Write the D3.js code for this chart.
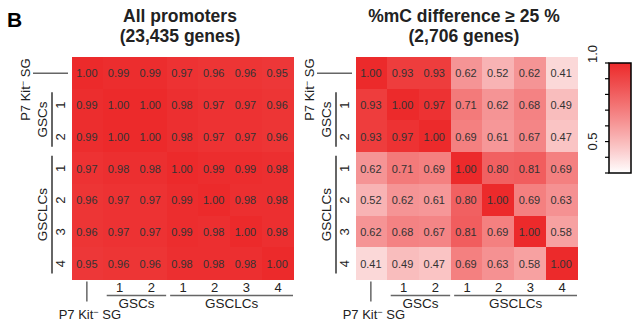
<!DOCTYPE html>
<html>
<head>
<meta charset="utf-8">
<script src="https://cdn.jsdelivr.net/npm/d3@7"></script>
<style>
  body { margin: 0; background: #fff; }
  svg text { font-family: "Liberation Sans", Arial, sans-serif; }
</style>
</head>
<body>
<svg width="641" height="331"></svg>
<script>
// sample order shared by rows and columns
var samples = ["P7 Kit- SG", "GSCs 1", "GSCs 2", "GSCLCs 1", "GSCLCs 2", "GSCLCs 3", "GSCLCs 4"];
var subLabels = ["", "1", "2", "1", "2", "3", "4"];
var groups = [
  { name: "GSCs", idx: [1, 2] },
  { name: "GSCLCs", idx: [3, 4, 5, 6] }
];

// correlation matrices
var allPromoters = [
  [1.00, 0.99, 0.99, 0.97, 0.96, 0.96, 0.95],
  [0.99, 1.00, 1.00, 0.98, 0.97, 0.97, 0.96],
  [0.99, 1.00, 1.00, 0.98, 0.97, 0.97, 0.96],
  [0.97, 0.98, 0.98, 1.00, 0.99, 0.99, 0.98],
  [0.96, 0.97, 0.97, 0.99, 1.00, 0.98, 0.98],
  [0.96, 0.97, 0.97, 0.99, 0.98, 1.00, 0.98],
  [0.95, 0.96, 0.96, 0.98, 0.98, 0.98, 1.00]
];
var diffPromoters = [
  [1.00, 0.93, 0.93, 0.62, 0.52, 0.62, 0.41],
  [0.93, 1.00, 0.97, 0.71, 0.62, 0.68, 0.49],
  [0.93, 0.97, 1.00, 0.69, 0.61, 0.67, 0.47],
  [0.62, 0.71, 0.69, 1.00, 0.80, 0.81, 0.69],
  [0.52, 0.62, 0.61, 0.80, 1.00, 0.69, 0.63],
  [0.62, 0.68, 0.67, 0.81, 0.69, 1.00, 0.58],
  [0.41, 0.49, 0.47, 0.69, 0.63, 0.58, 1.00]
];
var legendTicks = [0.3, 0.4, 0.5, 0.6, 0.7, 0.8, 0.9, 1.0];
var legendLabels = [0.5, 1.0];

var config = { size: 222, top: 57.5 };
var lineColor = "#666";

// white -> red, eased so mid values are already fairly pink
var level = d3.scalePow().exponent(0.7).domain([0.3, 1.0]).range([0, 1]).clamp(true);
var ramp = d3.interpolateRgb("#ffffff", "#ec2a2b");
var color = function(v) { return ramp(level(v)); };

var svg = d3.select("svg");

svg.append("text")
  .attr("x", 7).attr("y", 27)
  .style("font-size", "21px").style("font-weight", "bold")
  .text("B");

function kitLabel(sel) {
  sel.append("tspan").text("P7 Kit");
  sel.append("tspan").text("\u2212").attr("dy", -4).style("font-size", "9px");
  sel.append("tspan").text(" SG").attr("dy", 4);
}

function drawPanel(x0, matrix, titleLines) {
  var y0 = config.top;
  var x = d3.scaleBand().domain(d3.range(samples.length)).range([x0, x0 + config.size]);
  var y = d3.scaleBand().domain(d3.range(samples.length)).range([y0, y0 + config.size]);
  var x1 = x0 + config.size, y1 = y0 + config.size;
  var g = svg.append("g");

  // title
  g.selectAll("text.title")
    .data(titleLines)
    .enter().append("text")
      .attr("class", "title")
      .attr("x", (x0 + x1) / 2 - 3)
      .attr("y", function(d, i) { return 21.5 + i * 20.5; })
      .attr("text-anchor", "middle")
      .style("font-size", "17.5px").style("font-weight", "bold").style("fill", "#222")
      .text(function(d) { return d; });

  // cells
  var cells = [];
  matrix.forEach(function(row, i) {
    row.forEach(function(v, j) { cells.push({ r: i, c: j, v: v }); });
  });

  g.selectAll("rect.cell")
    .data(cells)
    .enter().append("rect")
      .attr("class", "cell")
      .attr("x", function(d) { return Math.floor(x(d.c)); })
      .attr("y", function(d) { return Math.floor(y(d.r)); })
      .attr("width", function(d) { return Math.ceil(x(d.c) + x.bandwidth()) - Math.floor(x(d.c)); })
      .attr("height", function(d) { return Math.ceil(y(d.r) + y.bandwidth()) - Math.floor(y(d.r)); })
      .attr("shape-rendering", "crispEdges")
      .style("fill", function(d) { return color(d.v); });

  g.selectAll("text.val")
    .data(cells)
    .enter().append("text")
      .attr("class", "val")
      .attr("x", function(d) { return x(d.c) + x.bandwidth() / 2 - 1; })
      .attr("y", function(d) { return y(d.r) + y.bandwidth() / 2 + 4; })
      .attr("text-anchor", "middle")
      .style("font-size", "11px").style("fill", "#333")
      .text(function(d) { return d.v.toFixed(2); });

  // row annotations (left)
  var p7y = y(0) + y.bandwidth() / 2;
  g.append("line")
    .attr("x1", x0 - 39).attr("x2", x0 - 4)
    .attr("y1", p7y).attr("y2", p7y)
    .style("stroke", lineColor).style("stroke-width", 1.5);
  g.append("text")
    .attr("transform", "translate(" + (x0 - 42) + "," + (y0 + 1) + ") rotate(-90)")
    .attr("text-anchor", "end")
    .style("font-size", "13px").style("fill", "#222")
    .call(kitLabel);

  groups.forEach(function(grp) {
    var a = y(grp.idx[0]) + 3;
    var b = y(grp.idx[grp.idx.length - 1]) + y.bandwidth() - 6;
    g.append("line")
      .attr("x1", x0 - 20).attr("x2", x0 - 20)
      .attr("y1", a).attr("y2", b)
      .style("stroke", "#333").style("stroke-width", 1.5);
    g.append("text")
      .attr("transform", "translate(" + (x0 - 25) + "," + ((a + b) / 2) + ") rotate(-90)")
      .attr("text-anchor", "middle")
      .style("font-size", "13.5px").style("fill", "#222")
      .text(grp.name);

    var a2 = x(grp.idx[0]) + 3;
    var b2 = x(grp.idx[grp.idx.length - 1]) + x.bandwidth() - 1;
    g.append("line")
      .attr("x1", a2).attr("x2", b2)
      .attr("y1", y1 + 16).attr("y2", y1 + 16)
      .style("stroke", lineColor).style("stroke-width", 1.5);
    g.append("text")
      .attr("x", (a2 + b2) / 2).attr("y", y1 + 28)
      .attr("text-anchor", "middle")
      .style("font-size", "13.5px").style("fill", "#222")
      .text(grp.name);
  });

  g.selectAll("text.rowlab")
    .data(d3.range(1, samples.length))
    .enter().append("text")
      .attr("class", "rowlab")
      .attr("transform", function(d) {
        return "translate(" + (x0 - 7) + "," + (y(d) + y.bandwidth() / 2) + ") rotate(-90)";
      })
      .attr("text-anchor", "middle")
      .style("font-size", "13px").style("fill", "#222")
      .text(function(d) { return subLabels[d]; });

  // column annotations (bottom)
  g.selectAll("text.collab")
    .data(d3.range(1, samples.length))
    .enter().append("text")
      .attr("class", "collab")
      .attr("x", function(d) { return x(d) + x.bandwidth() / 2; })
      .attr("y", y1 + 12)
      .attr("text-anchor", "middle")
      .style("font-size", "13px").style("fill", "#222")
      .text(function(d) { return subLabels[d]; });

  var p7x = x(0) + x.bandwidth() / 2 - 1;
  g.append("line")
    .attr("x1", p7x).attr("x2", p7x)
    .attr("y1", y1 + 2).attr("y2", y1 + 22)
    .style("stroke", lineColor).style("stroke-width", 1.5);
  g.append("text")
    .attr("x", p7x + 3).attr("y", y1 + 39)
    .attr("text-anchor", "middle")
    .style("font-size", "13px").style("fill", "#222")
    .call(kitLabel);
}

drawPanel(72, allPromoters, ["All promoters", "(23,435 genes)"]);
drawPanel(356, diffPromoters, ["%mC difference  \u2265 25 %", "(2,706 genes)"]);

// colour bar
var cb = { x: 609, w: 22, top: 63, bottom: 173 };
var cbScale = d3.scaleLinear().domain([0.3, 1.0]).range([cb.bottom, cb.top]);

var grad = svg.append("defs").append("linearGradient")
  .attr("id", "cbgrad")
  .attr("x1", 0).attr("y1", 1).attr("x2", 0).attr("y2", 0);
grad.selectAll("stop")
  .data(d3.range(0, 1.0001, 0.05))
  .enter().append("stop")
    .attr("offset", function(t) { return t; })
    .attr("stop-color", function(t) { return color(0.3 + t * 0.7); });

svg.append("rect")
  .attr("x", cb.x).attr("y", cb.top)
  .attr("width", cb.w).attr("height", cb.bottom - cb.top)
  .style("fill", "url(#cbgrad)")
  .style("stroke", "#000").style("stroke-width", 1.5);

svg.selectAll("line.cbtick")
  .data(legendTicks)
  .enter().append("line")
    .attr("class", "cbtick")
    .attr("x1", cb.x - 4).attr("x2", cb.x)
    .attr("y1", function(d) { return cbScale(d); })
    .attr("y2", function(d) { return cbScale(d); })
    .style("stroke", "#000").style("stroke-width", 1.2);

svg.selectAll("text.cblab")
  .data(legendLabels)
  .enter().append("text")
    .attr("class", "cblab")
    .attr("transform", function(d) {
      return "translate(597," + cbScale(d) + ") rotate(-90)";
    })
    .attr("text-anchor", function(d) { return d === 1.0 ? "start" : "middle"; })
    .style("font-size", "13px").style("fill", "#222")
    .text(function(d) { return d.toFixed(1); });
</script>
</body>
</html>
